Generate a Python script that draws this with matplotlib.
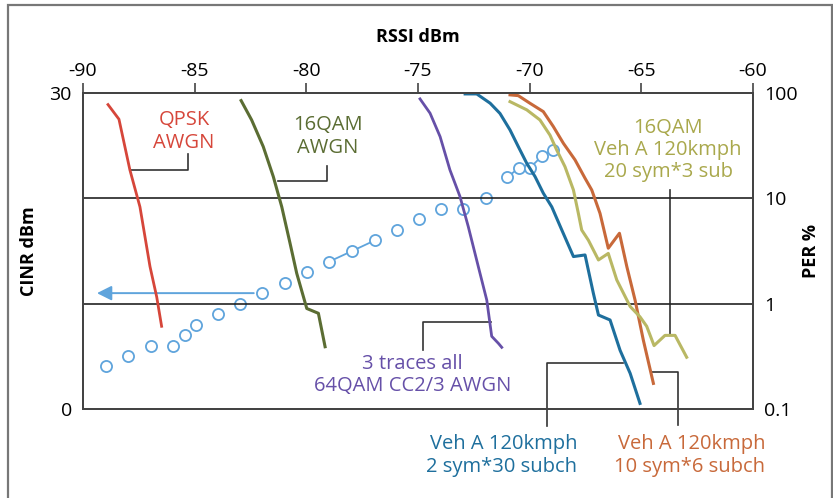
import numpy as np
import matplotlib
matplotlib.use("Agg")
import matplotlib.pyplot as plt
from matplotlib.patches import Rectangle

plt.rcParams['font.family'] = ['Open Sans', 'DejaVu Sans']

# PER curves (RSSI dBm, PER %)
qpsk_x = [-88.88, -88.39, -87.90, -87.45, -87.00, -86.70, -86.48]
qpsk_y = [77.6, 56.4, 18.6, 8.3, 2.25, 1.16, 0.61]

qam16_x = [-82.92, -82.45, -81.93, -81.48, -81.10, -80.73, -80.43, -79.98, -79.46, -79.16]
qam16_y = [84.7, 55.5, 31.0, 16.1, 8.3, 3.75, 1.94, 0.90, 0.81, 0.39]

qam64_x = [-74.91, -74.46, -74.01, -73.57, -73.12, -72.75, -72.30, -71.92, -71.70, -71.40, -71.25]
qam64_y = [87.9, 64.3, 38.5, 18.6, 10.4, 5.4, 2.25, 1.08, 0.49, 0.42, 0.385]

veh2_x = [-72.89, -72.37, -71.77, -71.33, -70.88, -70.51, -70.13, -69.76, -69.39, -69.01,
          -68.56, -68.04, -67.52, -67.15, -66.92, -66.40, -65.95, -65.50, -65.06]
veh2_y = [98, 98, 80, 64, 44.6, 31, 21.5, 16.1, 11.2, 8.3,
          5.0, 2.8, 2.9, 1.26, 0.78, 0.70, 0.36, 0.218, 0.113]

veh10_x = [-70.88, -70.51, -69.99, -69.39, -68.94, -68.49, -67.97, -67.52, -67.22, -66.85,
           -66.48, -65.98, -65.65, -65.28, -64.91, -64.46]
veh10_y = [96, 94.4, 80, 66.6, 48, 33.3, 23.2, 15.5, 12.0, 7.2,
           3.36, 4.66, 2.25, 1.08, 0.45, 0.175]

veh20_x = [-70.88, -70.13, -69.54, -69.09, -68.79, -68.42, -68.04, -67.82, -67.67, -67.37,
           -66.92, -66.48, -66.10, -65.50, -65.06, -64.76, -64.43, -63.94, -63.49, -62.97]
veh20_y = [82.8, 69.2, 55.5, 39.8, 28.8, 20, 12.0, 7.2, 5.0, 4.0,
           2.6, 3.0, 1.68, 0.94, 0.75, 0.61, 0.40, 0.50, 0.50, 0.31]

# CINR vs RSSI (left axis)
cinr_x = [-88.98, -87.98, -86.97, -85.96, -85.45, -84.95, -83.95, -82.97, -81.98, -80.95,
          -79.98, -78.97, -77.95, -76.94, -75.94, -74.95, -73.98, -72.97, -71.97, -71.0,
          -70.48, -69.98, -69.46, -68.97]
cinr_y = [4.1, 5.0, 6.0, 6.0, 7.0, 8.0, 9.0, 10.0, 11.0, 12.0,
          13.0, 14.0, 15.0, 16.0, 17.0, 18.0, 19.0, 19.0, 20.0, 22.0,
          22.9, 22.9, 24.0, 24.6]

xticks = [-90, -85, -80, -75, -70, -65, -60]

c_red = '#d6463a'
c_green = '#5b6d33'
c_purple = '#6650a8'
c_blue = '#1e6f9d'
c_orange = '#c8693a'
c_olive = '#b9b864'
c_olive_txt = '#a9a84c'
c_circ = '#5fa4dc'
c_dark = '#333333'

fig = plt.figure(figsize=(8.33, 4.98), dpi=100)
fig.patches.append(Rectangle((8 / 833, -0.05), 824 / 833, 1.05 - 5 / 498, transform=fig.transFigure,
                             fill=False, edgecolor='#777777', linewidth=1.6, clip_on=False))

ax = fig.add_axes([83 / 833, 89 / 498, 670 / 833, 316 / 498])
ax2 = ax.twinx()

ax.set_xlim(-90, -60)
ax.set_ylim(0, 30)
ax2.set_yscale('log')
ax2.set_ylim(0.1, 100)

# grid lines at PER 1 and 10
for v in [1, 10]:
    ax2.axhline(v, color='#222222', lw=1.2, zorder=1)

ax2.plot(qpsk_x, qpsk_y, color=c_red, lw=2)
ax2.plot(qam16_x, qam16_y, color=c_green, lw=2.2)
ax2.plot(qam64_x, qam64_y, color=c_purple, lw=2)
ax2.plot(veh2_x, veh2_y, color=c_blue, lw=2.2)
ax2.plot(veh10_x, veh10_y, color=c_orange, lw=2.2)
ax2.plot(veh20_x, veh20_y, color=c_olive, lw=2.2)

# CINR markers and the few joined segments
ax.plot(cinr_x, cinr_y, 'o', mfc='white', mec=c_circ, mew=1.3, ms=8, zorder=5)
for a, b in [(11, 12), (12, 13), (19, 20), (20, 21), (21, 22), (22, 23)]:
    ax.plot([cinr_x[a], cinr_x[b]], [cinr_y[a], cinr_y[b]], color=c_circ, lw=1.3, zorder=4)
ax.annotate('', xy=(-89.5, cinr_y[8]), xytext=(cinr_x[8] - 0.25, cinr_y[8]),
            arrowprops=dict(arrowstyle='-|>', color=c_circ, lw=1.4, mutation_scale=22), zorder=4)

# leader lines
leaders = [
    ([-87.9, -85.31, -85.31], [22.7, 22.7, 24.2]),
    ([-81.28, -79.09, -79.09], [21.6, 21.6, 23.1]),
    ([-71.73, -74.77, -74.77], [8.26, 8.26, 5.6]),
    ([-63.71, -63.71], [20.8, 7.03]),
    ([-65.82, -69.23, -69.23], [4.34, 4.34, -1.6]),
    ([-64.53, -63.34, -63.34], [3.54, 3.54, -1.5]),
]
for lx, ly in leaders:
    ax.plot(lx, ly, color=c_dark, lw=1.2, clip_on=False, zorder=3)

fs = 14.5
ax.text(-85.48, 26.35, 'QPSK\nAWGN', color=c_red, fontsize=fs, ha='center', va='center', linespacing=1.15)
ax.text(-79.05, 25.86, '16QAM\nAWGN', color=c_green, fontsize=fs, ha='center', va='center', linespacing=1.15)
ax.text(-75.24, 3.2, '3 traces all\n64QAM CC2/3 AWGN', color=c_purple, fontsize=fs,
        ha='center', va='center', linespacing=1.15)
ax.text(-63.8, 24.6, '16QAM\nVeh A 120kmph\n20 sym*3 sub', color=c_olive_txt, fontsize=fs,
        ha='center', va='center', linespacing=1.15)
ax.text(-67.87, -4.42, 'Veh A 120kmph\n2 sym*30 subch', color=c_blue, fontsize=fs,
        ha='right', va='center', multialignment='right', linespacing=1.15, clip_on=False)
ax.text(-59.46, -4.42, 'Veh A 120kmph\n10 sym*6 subch', color=c_orange, fontsize=fs,
        ha='right', va='center', multialignment='right', linespacing=1.15, clip_on=False)

# axes styling
ax.xaxis.tick_top()
ax.xaxis.set_label_position('top')
ax.set_xticks(xticks)
ax.set_xticklabels([str(t) for t in xticks])
ax.tick_params(axis='x', direction='out', length=7, width=1.2, color='#444444',
               labelsize=14, pad=2, top=True, bottom=False)
ax.set_yticks([0, 30])
ax.tick_params(axis='y', length=0, labelsize=14, pad=8)
ax2.set_yticks([0.1, 1, 10, 100])
ax2.set_yticklabels(['0.1', '1', '10', '100'])
ax2.yaxis.set_minor_locator(matplotlib.ticker.NullLocator())
ax2.tick_params(axis='y', length=0, labelsize=14, pad=8)

ax.set_xlabel('RSSI dBm', fontsize=13, fontweight='bold', labelpad=15)
ax.set_ylabel('CINR dBm', fontsize=13, fontweight='bold', labelpad=8)
ax2.set_ylabel('PER %', fontsize=13, fontweight='bold', labelpad=3)

for a in (ax, ax2):
    for s in a.spines.values():
        s.set_color('#444444')
        s.set_linewidth(1.4)

fig.savefig('out.png', dpi=100)
